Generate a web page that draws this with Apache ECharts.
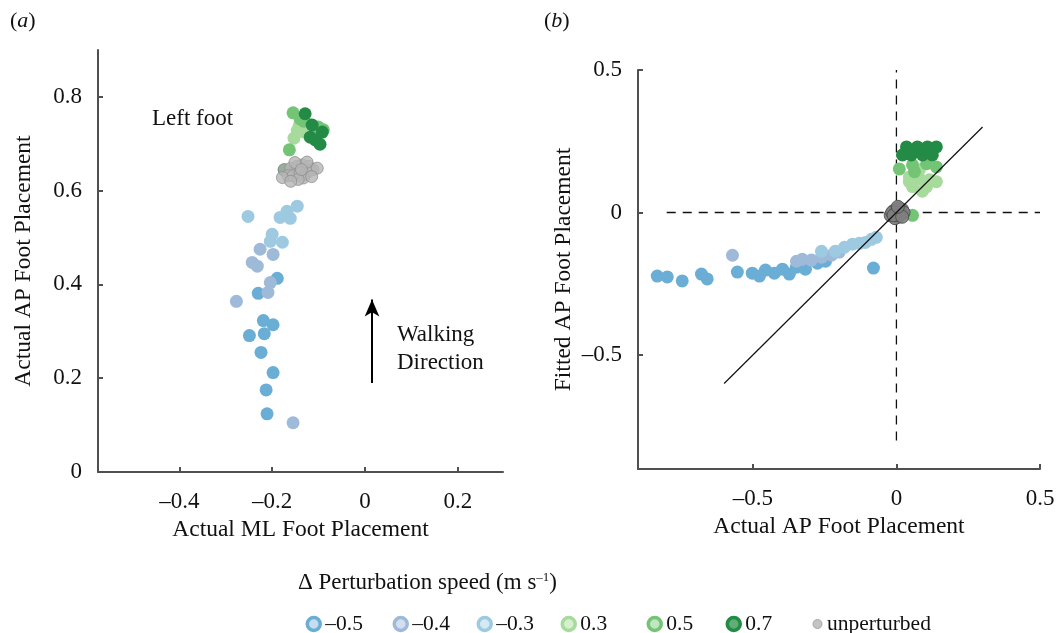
<!DOCTYPE html>
<html>
<head>
<meta charset="utf-8">
<script src="https://cdn.jsdelivr.net/npm/echarts@6/dist/echarts.min.js"></script>
<style>
  html, body { margin: 0; padding: 0; background: #fff; }
  #chart { width: 1056px; height: 633px; }
</style>
</head>
<body>
<div id="chart"></div>
<script>
// legend categories (perturbation speed, m/s)
const catNames = ['–0.5', '–0.4', '–0.3', '0.3', '0.5', '0.7', 'unperturbed'];
const catColors = ['#6aaed6', '#9fbad9', '#9ecae1', '#a6db9c', '#74c476', '#238b45', '#b3b3b3'];
const catLight = ['#c4def0', '#d3dfee', '#d5e9f3', '#d6efcf', '#c0e6c1', '#5fae78', '#b3b3b3'];

// panel (a): [ML, AP] actual foot placement
const aM05 = [[-0.189,0.413],[-0.230,0.381],[-0.219,0.323],[-0.198,0.314],[-0.249,0.291],[-0.217,0.295],
  [-0.224,0.255],[-0.198,0.212],[-0.213,0.175],[-0.211,0.124]];
const aM04 = [[-0.226,0.475],[-0.198,0.464],[-0.243,0.447],[-0.232,0.439],[-0.204,0.404],[-0.209,0.383],
  [-0.277,0.364],[-0.155,0.105]];
const aM03 = [[-0.252,0.545],[-0.183,0.543],[-0.168,0.556],[-0.146,0.567],[-0.161,0.541],[-0.200,0.507],
  [-0.204,0.492],[-0.178,0.490]];
const aP03 = [[-0.142,0.738],[-0.153,0.712],[-0.131,0.725],[-0.125,0.744],[-0.101,0.723],[-0.146,0.728]];
const aP05 = [[-0.155,0.766],[-0.140,0.753],[-0.163,0.687],[-0.101,0.736],[-0.090,0.730],[-0.132,0.748]];
const aP07 = [[-0.129,0.764],[-0.114,0.740],[-0.092,0.725],[-0.118,0.714],[-0.097,0.699],[-0.174,0.644],
  [-0.107,0.708]];
const aUnp = [[-0.174,0.645],[-0.160,0.648],[-0.146,0.652],[-0.135,0.655],[-0.122,0.652],[-0.112,0.645],
  [-0.166,0.632],[-0.155,0.632],[-0.140,0.638],[-0.129,0.634],[-0.118,0.643],[-0.133,0.627],
  [-0.178,0.628],[-0.144,0.624],[-0.103,0.648],[-0.151,0.660],[-0.125,0.661],[-0.160,0.620],
  [-0.137,0.645],[-0.115,0.630]];

// panel (b): [actual AP, fitted AP]
const bM05 = [[-0.833,-0.223],[-0.798,-0.226],[-0.746,-0.240],[-0.679,-0.216],[-0.659,-0.233],[-0.554,-0.209],
  [-0.502,-0.213],[-0.477,-0.223],[-0.456,-0.202],[-0.425,-0.213],[-0.397,-0.199],[-0.373,-0.216],
  [-0.348,-0.192],[-0.317,-0.199],[-0.275,-0.178],[-0.247,-0.171],[-0.080,-0.195]];
const bM04 = [[-0.571,-0.150],[-0.348,-0.171],[-0.328,-0.164],[-0.296,-0.167],[-0.261,-0.157],[-0.226,-0.150],
  [-0.199,-0.139]];
const bM03 = [[-0.261,-0.136],[-0.213,-0.136],[-0.181,-0.122],[-0.153,-0.111],[-0.129,-0.108],[-0.108,-0.105],
  [-0.087,-0.094],[-0.070,-0.087]];
const bP03 = [[0.045,0.108],[0.080,0.118],[0.115,0.115],[0.056,0.091],[0.105,0.091],[0.139,0.108],
  [0.045,0.125],[0.080,0.150],[0.090,0.075]];
const bP05 = [[0.010,0.153],[0.056,0.167],[0.105,0.171],[0.139,0.160],[0.063,0.143],[0.056,-0.010]];
const bP07 = [[0.035,0.230],[0.073,0.230],[0.108,0.230],[0.139,0.230],[0.021,0.202],[0.052,0.202],
  [0.091,0.202],[0.125,0.202]];
const bUnp = [[-0.020,-0.010],[-0.010,0.005],[0.000,0.010],[0.010,0.015],[0.020,0.010],[0.015,-0.005],
  [0.005,-0.015],[-0.005,-0.020],[-0.015,0.000],[0.025,0.000],[0.000,0.000],[0.010,-0.010],
  [-0.010,-0.010],[0.020,-0.015],[0.005,0.020]];

// reference lines in panel (b)
const zeroH = [[-0.8, 0], [0.5, 0]];
const zeroV = [[0, -0.8], [0, 0.5]];
const unity = [[-0.6, -0.6], [0.3, 0.3]];
// walking direction arrow in panel (a)
const arrowA = [[0.015, 0.19], [0.015, 0.368]];

const ticksAx = [-0.4, -0.2, 0, 0.2];
const ticksAy = [0, 0.2, 0.4, 0.6, 0.8];
const ticksB = [-0.5, 0, 0.5];

const dataA = [aM05, aM04, aM03, aP03, aP05, aP07, aUnp];
const dataB = [bM05, bM04, bM03, bP03, bP05, bP07, bUnp];

const FONT = 'Liberation Serif';
const fmt = v => String(v).replace('-', '–');

function axis(gridIndex, min, max, ticks, name, isY) {
  return {
    gridIndex, min, max, type: 'value',
    name, nameLocation: 'middle', nameGap: isY ? 62 : 46,
    nameTextStyle: { fontFamily: FONT, fontSize: 23.5, color: '#111' },
    axisLine: { onZero: false, lineStyle: { color: '#505050', width: 2 } },
    axisTick: { inside: true, length: 5, customValues: ticks, lineStyle: { color: '#505050', width: 2 } },
    axisLabel: { customValues: ticks, formatter: fmt, fontFamily: FONT, fontSize: 23, color: '#111', margin: isY ? 16 : 18 },
    splitLine: { show: false }
  };
}

const series = [];
catNames.forEach((n, i) => {
  const unp = n === 'unperturbed';
  series.push({
    name: n, type: 'scatter', xAxisIndex: 0, yAxisIndex: 0, data: dataA[i],
    symbolSize: unp ? 12 : 13,
    itemStyle: unp ? { color: '#b5b5b5', borderColor: '#8e8e8e', borderWidth: 1 } : { color: catColors[i], opacity: 1 }
  });
  series.push({
    name: n, type: 'scatter', xAxisIndex: 1, yAxisIndex: 1, data: dataB[i],
    symbolSize: 13,
    itemStyle: unp ? { color: '#7f7f7f', borderColor: '#4d4d4d', borderWidth: 1, opacity: 0.9 } : { color: catColors[i], opacity: 1 }
  });
});

const refLine = (data, dashed) => ({
  type: 'line', xAxisIndex: 1, yAxisIndex: 1, data, symbol: 'none', silent: true, z: dashed ? 1 : 5,
  lineStyle: { color: '#111', width: dashed ? 1.3 : 1.2, type: dashed ? [9, 7] : 'solid' }
});
series.push(refLine(zeroH, true), refLine(zeroV, true), refLine(unity, false));
series.push({
  type: 'line', xAxisIndex: 0, yAxisIndex: 0, data: [], silent: true,
  markLine: {
    silent: true, symbol: ['none', 'arrow'], symbolSize: [11, 17], label: { show: false },
    lineStyle: { color: '#000', width: 2, type: 'solid' },
    data: [[{ coord: arrowA[0] }, { coord: arrowA[1] }]]
  }
});

const iconX = [307, 394, 478, 562, 648, 727, 812];
const legends = catNames.map((n, i) => {
  const unp = n === 'unperturbed';
  const s = unp ? 9 : 13;
  return {
    selectedMode: false, left: iconX[i] - s / 2, top: 608, itemWidth: s, itemHeight: s, itemGap: 0,
    textStyle: { fontFamily: FONT, fontSize: 21.5, color: '#111', padding: [2, 0, 0, 0] },
    data: [{
      name: n, icon: 'circle',
      itemStyle: unp ? { color: '#b5b5b5', borderColor: '#999', borderWidth: 1 }
        : { color: catLight[i], borderColor: catColors[i], borderWidth: 3.5 }
    }]
  };
});

const chart = echarts.init(document.getElementById('chart'));
chart.setOption({
  animation: false,
  backgroundColor: '#fff',
  textStyle: { fontFamily: FONT },
  grid: [
    { left: 98, right: 553, top: 50, bottom: 161, outerBoundsMode: 'none' },
    { left: 638, right: 16, top: 70, bottom: 164, outerBoundsMode: 'none' }
  ],
  xAxis: [
    axis(0, -0.575, 0.297, ticksAx, 'Actual ML Foot Placement', false),
    axis(1, -0.9, 0.5, ticksB, 'Actual AP Foot Placement', false)
  ],
  yAxis: [
    axis(0, 0, 0.9, ticksAy, 'Actual AP Foot Placement', true),
    axis(1, -0.9, 0.5, ticksB, 'Fitted AP Foot Placement', true)
  ],
  legend: legends,
  graphic: [
    { type: 'text', left: 10, top: 10, style: { text: '{n|(}{i|a}{n|)}', rich: {
      n: { fontFamily: FONT, fontSize: 22, fill: '#111' }, i: { fontFamily: FONT, fontSize: 22, fontStyle: 'italic', fill: '#111' } } } },
    { type: 'text', left: 544, top: 10, style: { text: '{n|(}{i|b}{n|)}', rich: {
      n: { fontFamily: FONT, fontSize: 22, fill: '#111' }, i: { fontFamily: FONT, fontSize: 22, fontStyle: 'italic', fill: '#111' } } } },
    { type: 'text', left: 152, top: 107, style: { text: 'Left foot', font: '23px "Liberation Serif"', fill: '#111' } },
    { type: 'text', left: 397, top: 321, style: { text: 'Walking\nDirection', font: '23px "Liberation Serif"', lineHeight: 28, fill: '#111' } },
    { type: 'text', left: 298, top: 571, style: { text: '{n|Δ Perturbation speed (m s}{s|–1}{n|)}', rich: {
      n: { fontFamily: FONT, fontSize: 23, fill: '#111' }, s: { fontFamily: FONT, fontSize: 13, fill: '#111', padding: [0, 0, 10, 0] } } } }
  ],
  series
});
</script>
</body>
</html>
